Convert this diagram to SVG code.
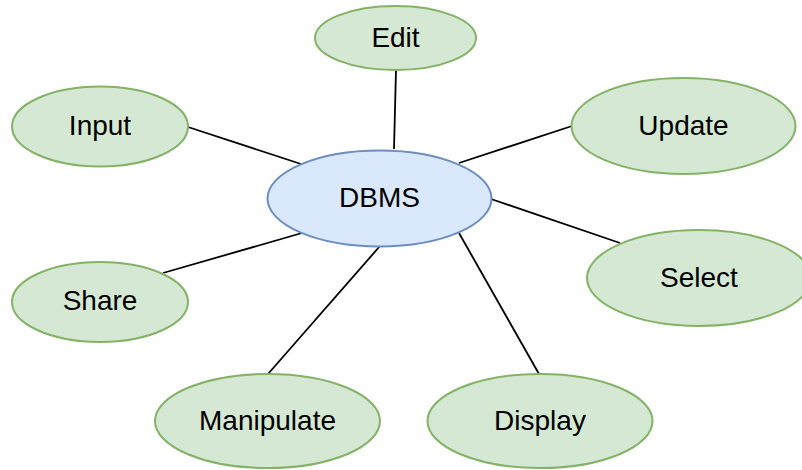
<svg xmlns="http://www.w3.org/2000/svg" width="802" height="470" viewBox="0 0 802 470">
  <style>
    .link { stroke: #000000; stroke-width: 1.8; fill: none; }
    .leaf { fill: #d5e8d4; stroke: #82b366; stroke-width: 2; }
    .hub { fill: #dae8fc; stroke: #6c8ebf; stroke-width: 2; }
    .label { font-family: "Liberation Sans", Arial, sans-serif; font-size: 28px; fill: #000000; text-anchor: middle; }
  </style>
  <rect width="802" height="470" fill="#ffffff"/>
  <g id="connectors">
    <line class="link" x1="394" y1="149" x2="396" y2="70"/>
    <line class="link" x1="301" y1="164" x2="188" y2="127"/>
    <line class="link" x1="459" y1="163" x2="572" y2="126"/>
    <line class="link" x1="491" y1="199" x2="620" y2="243"/>
    <line class="link" x1="302" y1="233" x2="163" y2="273"/>
    <line class="link" x1="380" y1="246" x2="268" y2="374"/>
    <line class="link" x1="459" y1="233" x2="539" y2="374"/>
  </g>
  <g id="node-dbms">
    <ellipse class="hub" cx="379.5" cy="198.5" rx="112" ry="48"/>
    <text class="label" x="379.5" y="207">DBMS</text>
  </g>
  <g id="node-edit">
    <ellipse class="leaf" cx="395.5" cy="38" rx="80.5" ry="32"/>
    <text class="label" x="395.5" y="46.5">Edit</text>
  </g>
  <g id="node-input">
    <ellipse class="leaf" cx="100" cy="126.5" rx="88" ry="40"/>
    <text class="label" x="100" y="135">Input</text>
  </g>
  <g id="node-update">
    <ellipse class="leaf" cx="683.5" cy="126" rx="112" ry="48"/>
    <text class="label" x="683.5" y="134.5">Update</text>
  </g>
  <g id="node-select">
    <ellipse class="leaf" cx="699" cy="278" rx="112" ry="48"/>
    <text class="label" x="699" y="286.5">Select</text>
  </g>
  <g id="node-share">
    <ellipse class="leaf" cx="100" cy="302" rx="88" ry="40"/>
    <text class="label" x="100" y="310">Share</text>
  </g>
  <g id="node-manipulate">
    <ellipse class="leaf" cx="267.5" cy="421" rx="112.5" ry="47"/>
    <text class="label" x="267.5" y="429.5">Manipulate</text>
  </g>
  <g id="node-display">
    <ellipse class="leaf" cx="540" cy="421" rx="112.5" ry="47"/>
    <text class="label" x="540" y="429.5">Display</text>
  </g>
</svg>
